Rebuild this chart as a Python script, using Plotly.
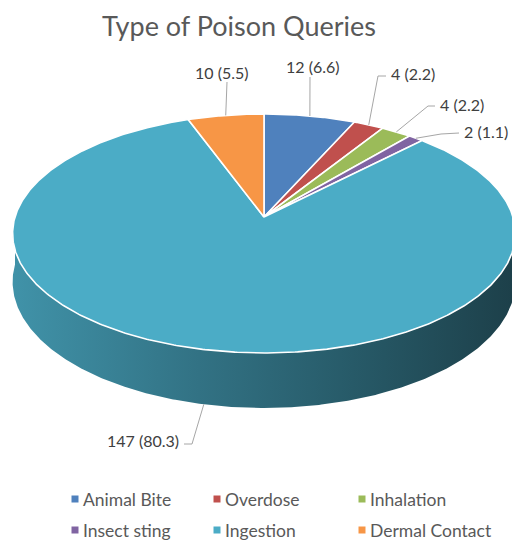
import numpy as np
import plotly.graph_objects as go

# ---- data ----
categories = ["Animal Bite", "Overdose", "Inhalation", "Insect sting", "Ingestion", "Dermal Contact"]
counts = [12, 4, 4, 2, 147, 10]
percent = [6.6, 2.2, 2.2, 1.1, 80.3, 5.5]
colors = ["#4F81BD", "#C0504D", "#9BBB59", "#8064A2", "#4BACC6", "#F79646"]

W, HGT = 512, 544

# ---- tilted-disc projection (pixel space) ----
CX, CY = 264, 217      # apex of the pie on screen
R = 249                # horizontal radius
K = 0.4707             # vertical squash of the disc
P = 0.138              # perspective strength (far side smaller)
DEPTH = 47.4           # thickness of the pie


def rim(theta_deg, drop=0.0):
    """Screen point on the rim; theta clockwise from 12 o'clock, drop=1 for bottom edge."""
    t = np.radians(theta_deg)
    X, Y = np.sin(t), np.cos(t)
    s = 1.0 / (1.0 + P * Y)
    return CX + R * X * s, CY - R * K * Y * s + DEPTH * s * drop


def arc(a0, a1, drop=0.0, step=0.5):
    n = max(2, int(abs(a1 - a0) / step) + 1)
    th = np.linspace(a0, a1, n)
    return rim(th, drop)


total = sum(counts)
ends = np.cumsum(counts) / total * 360.0
starts = np.concatenate([[0.0], ends[:-1]])
mids = (starts + ends) / 2.0

# horizontal shading of the front wall, left (lit) to right (shadow)
SIDE_X0, SIDE_X1 = 15, 512
side_scale = [[0.0, "rgb(64,146,168)"], [0.37, "rgb(50,114,132)"],
              [0.68, "rgb(39,90,104)"], [1.0, "rgb(29,64,74)"]]

fig = go.Figure()

# ---- front wall of the pie (visible from 90 to 270 degrees) ----
for a0, a1 in zip(starts, ends):
    lo, hi = max(a0, 90.0), min(a1, 270.0)
    if hi <= lo:
        continue
    tx, ty = arc(lo, hi, 0.0)
    bx, by = arc(hi, lo, 1.0)
    xs = np.concatenate([tx, bx, tx[:1]])
    ys = np.concatenate([ty, by, ty[:1]])
    fig.add_trace(go.Scatter(
        x=xs, y=ys, mode="lines", fill="toself",
        fillgradient=dict(type="horizontal", colorscale=side_scale,
                          start=SIDE_X0, stop=SIDE_X1),
        line=dict(width=0), hoverinfo="skip", showlegend=False))

# ---- top face slices ----
for name, a0, a1, col in zip(categories, starts, ends, colors):
    ax, ay = arc(a0, a1)
    xs = np.concatenate([[CX], ax, [CX]])
    ys = np.concatenate([[CY], ay, [CY]])
    fig.add_trace(go.Scatter(x=xs, y=ys, mode="lines", fill="toself",
                             fillcolor=col, line=dict(color="white", width=1.6),
                             name=name, hoverinfo="name", showlegend=False))

# ---- data labels with leader lines ----
# (text x, text y, anchor, elbow points from the label towards the slice, rim level)
label_layout = [
    (313, 66, "center", [(310, 77)], 0.0),
    (389, 73, "left", [(386, 76), (378, 76)], 0.0),
    (438, 104, "left", [(435, 106), (428, 106)], 0.0),
    (462, 131, "left", [(459, 133), (441, 134)], 0.0),
    (181, 440, "right", [(184, 444), (192, 444)], 1.0),
    (222, 72, "center", [(227, 82)], 0.0),
]

for cnt, pct, mid, (tx, ty, anc, elbow, drop) in zip(counts, percent, mids, label_layout):
    px, py = rim(mid, drop)
    lx = [e[0] for e in elbow] + [float(px)]
    ly = [e[1] for e in elbow] + [float(py)]
    fig.add_trace(go.Scatter(x=lx, y=ly, mode="lines",
                             line=dict(color="#A6A6A6", width=1),
                             hoverinfo="skip", showlegend=False))
    fig.add_annotation(x=tx, y=ty, xref="x", yref="y", text=f"{cnt} ({pct})",
                       showarrow=False, xanchor=anc, yanchor="middle",
                       font=dict(family="Lato", size=16, color="#404040"))

# ---- legend (3 columns x 2 rows) ----
leg_x = [75, 217, 362]
leg_y = [499, 530]
for i, (name, col) in enumerate(zip(categories, colors)):
    x0 = leg_x[i % 3]
    y0 = leg_y[i // 3]
    fig.add_trace(go.Scatter(x=[x0], y=[y0], mode="markers",
                             marker=dict(symbol="square", size=7, color=col),
                             hoverinfo="skip", showlegend=False))
    fig.add_annotation(x=x0 + 6, y=y0, xref="x", yref="y", text=name,
                       showarrow=False, xanchor="left", yanchor="middle",
                       font=dict(family="Lato", size=17.5, color="#595959"))

# ---- title ----
fig.add_annotation(x=239, y=25, xref="x", yref="y", text="Type of Poison Queries",
                   showarrow=False, xanchor="center", yanchor="middle",
                   font=dict(family="Lato", size=27, color="#595959"))

fig.update_layout(
    width=W, height=HGT, autosize=False,
    margin=dict(l=0, r=0, t=0, b=0),
    paper_bgcolor="white", plot_bgcolor="white",
    xaxis=dict(range=[0, W], visible=False, fixedrange=True),
    yaxis=dict(range=[HGT, 0], visible=False, fixedrange=True),
    showlegend=False,
)

fig.write_html("out.html")
